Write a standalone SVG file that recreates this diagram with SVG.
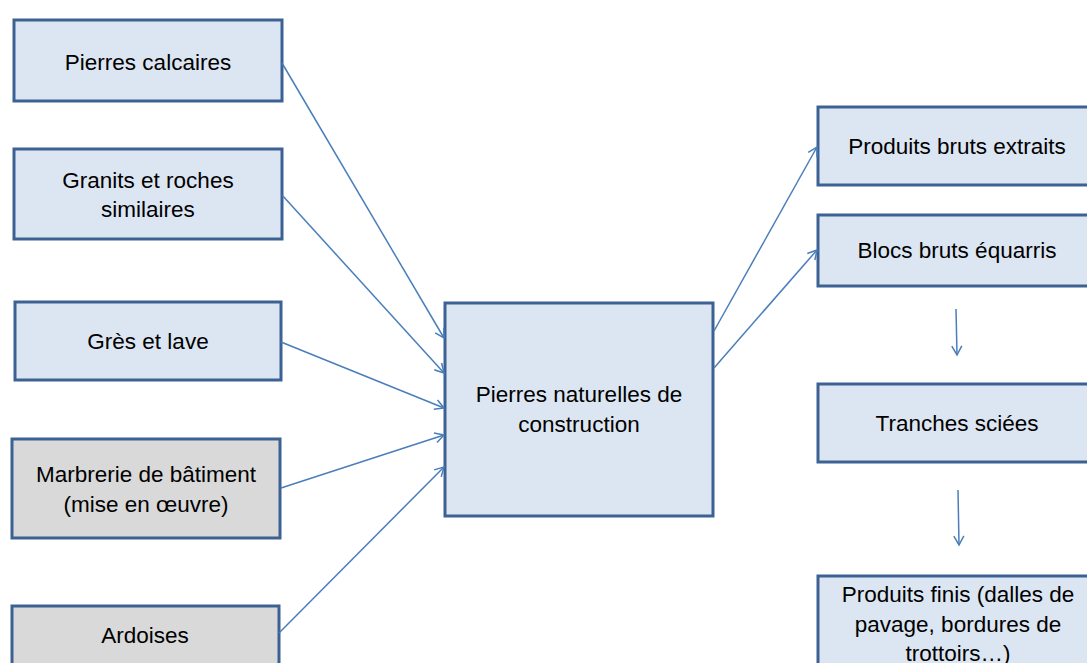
<svg xmlns="http://www.w3.org/2000/svg" width="1087" height="663" viewBox="0 0 1087 663">
<style>
.box{fill:#dce6f2;stroke:#3c6193;stroke-width:3}
.gray{fill:#d9d9d9;stroke:#3c6193;stroke-width:3}
text{font-family:"Liberation Sans",Arial,sans-serif;font-size:22.5px;fill:#000;text-anchor:middle}
.conn line{stroke:#4a7ebb;stroke-width:1.5;fill:none}
</style>
<defs>
<marker id="arr" markerWidth="12" markerHeight="12" refX="10" refY="6" orient="auto" markerUnits="userSpaceOnUse">
<path d="M1,1 L10,6 L1,11" fill="none" stroke="#4a7ebb" stroke-width="1.5"/>
</marker>
</defs>
<rect width="1087" height="663" fill="#fff"/>
<g id="n1"><rect class="box" x="14" y="20" width="268" height="81"/><text x="148" y="70">Pierres calcaires</text></g>
<g id="n2"><rect class="box" x="14" y="149" width="268" height="90"/><text x="148" y="188">Granits et roches</text><text x="148" y="217">similaires</text></g>
<g id="n3"><rect class="box" x="15" y="302" width="266" height="78"/><text x="148" y="349">Grès et lave</text></g>
<g id="n4"><rect class="gray" x="12" y="439" width="268" height="99"/><text x="146" y="482">Marbrerie de bâtiment</text><text x="146" y="512">(mise en œuvre)</text></g>
<g id="n5"><rect class="gray" x="12" y="606" width="267" height="70"/><text x="145" y="643">Ardoises</text></g>
<g id="center"><rect class="box" x="445" y="303" width="268" height="213"/><text x="579" y="402">Pierres naturelles de</text><text x="579" y="432">construction</text></g>
<g id="r1"><rect class="box" x="818" y="107" width="280" height="78"/><text x="957" y="154">Produits bruts extraits</text></g>
<g id="r2"><rect class="box" x="818" y="215" width="280" height="71"/><text x="957" y="258">Blocs bruts équarris</text></g>
<g id="r3"><rect class="box" x="818" y="384" width="280" height="78"/><text x="957" y="431">Tranches sciées</text></g>
<g id="r4"><rect class="box" x="818" y="576" width="280" height="100"/><text x="958" y="602">Produits finis (dalles de</text><text x="958" y="632">pavage, bordures de</text><text x="958" y="661">trottoirs…)</text></g>
<g class="conn" id="connectors">
<line x1="282" y1="63" x2="444" y2="338" marker-end="url(#arr)"/>
<line x1="282" y1="195" x2="444" y2="373" marker-end="url(#arr)"/>
<line x1="281" y1="342" x2="444" y2="408" marker-end="url(#arr)"/>
<line x1="281" y1="488" x2="444" y2="435" marker-end="url(#arr)"/>
<line x1="279" y1="633" x2="444" y2="467" marker-end="url(#arr)"/>
<line x1="714" y1="331" x2="817" y2="147" marker-end="url(#arr)"/>
<line x1="714" y1="368" x2="817" y2="250" marker-end="url(#arr)"/>
<line x1="956" y1="309" x2="957" y2="355" marker-end="url(#arr)"/>
<line x1="958" y1="490" x2="959" y2="545" marker-end="url(#arr)"/>
</g>
</svg>
